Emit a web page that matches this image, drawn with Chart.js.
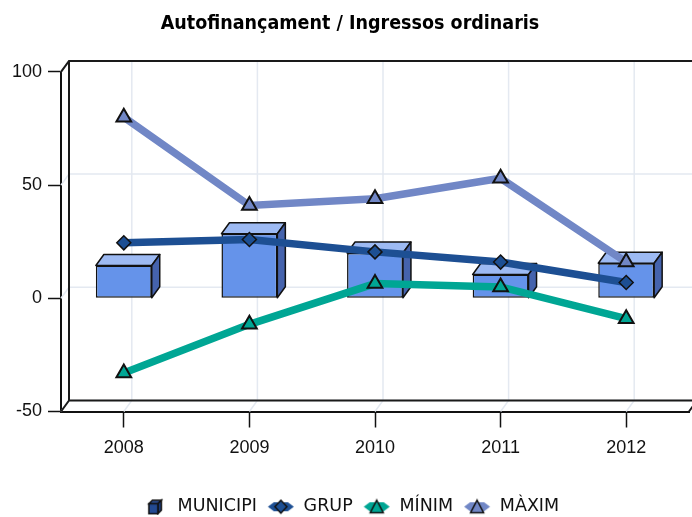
<!DOCTYPE html>
<html>
<head>
<meta charset="utf-8">
<script src="https://cdn.jsdelivr.net/npm/chart.js@4.4.1/dist/chart.umd.min.js"></script>
<style>
  body { margin: 0; background: #fff; }
</style>
</head>
<body>
<canvas id="grafic" width="692" height="517"></canvas>
<script>
const anys = ['2008', '2009', '2010', '2011', '2012'];
const municipi = [14.5, 28.5, 20, 10.5, 15.5];
const grup = [24.5, 26, 20.5, 16, 7];
const minim = [-33, -11.5, 6.5, 5, -9];
const maxim = [80, 41, 44, 53, 16];
const yTicks = [-50, 0, 50, 100];

const DX = 8, DY = -11; // fondaria 3D

const COL_BAR = '#6593ea', COL_BAR_TOP = '#9dbaf3', COL_BAR_SIDE = '#4563ad';
const COL_GRUP = '#1d4f93', COL_MIN = '#00a694', COL_MAX = '#7187c6';

// icones de la llegenda
let iconaBarra = () => {
  const c = document.createElement('canvas');
  c.width = 28; c.height = 17;
  const g = c.getContext('2d');
  g.lineWidth = 1.5; g.strokeStyle = '#111';
  g.fillStyle = '#2c4f96';
  g.beginPath(); g.moveTo(8, 5.5); g.lineTo(11.5, 2); g.lineTo(20.5, 2); g.lineTo(17, 5.5); g.closePath(); g.fill(); g.stroke();
  g.fillStyle = '#1b3a78';
  g.beginPath(); g.moveTo(17, 5.5); g.lineTo(20.5, 2); g.lineTo(20.5, 12); g.lineTo(17, 15.5); g.closePath(); g.fill(); g.stroke();
  g.fillStyle = '#234a92';
  g.fillRect(8, 5.5, 9, 10); g.strokeRect(8, 5.5, 9, 10);
  return c;
}

let iconaLinia = (color, marca) => {
  const c = document.createElement('canvas');
  c.width = 28; c.height = 17;
  const g = c.getContext('2d');
  g.fillStyle = color;
  g.beginPath();
  g.moveTo(1, 8.5); g.lineTo(7, 4); g.lineTo(21, 4); g.lineTo(27, 8.5); g.lineTo(21, 13); g.lineTo(7, 13);
  g.closePath(); g.fill();
  g.strokeStyle = '#111'; g.lineWidth = 1.5;
  g.beginPath();
  if (marca == 'diamant') {
    g.moveTo(14, 2); g.lineTo(20, 8.5); g.lineTo(14, 15); g.lineTo(8, 8.5);
  } else {
    g.moveTo(14, 2); g.lineTo(20.5, 14.5); g.lineTo(7.5, 14.5);
  }
  g.closePath(); g.fill(); g.stroke();
  return c;
}

const icones = [iconaBarra(), iconaLinia(COL_GRUP, 'diamant'), iconaLinia(COL_MIN, 'triangle'), iconaLinia(COL_MAX, 'triangle')];

// parets, graella i cares 3D de les barres
const marc3d = {
  id: 'marc3d',
  beforeDatasetsDraw(chart) {
    const {ctx, chartArea: a, scales: {x, y}} = chart;
    ctx.save();
    ctx.strokeStyle = '#e4e9f1';
    ctx.lineWidth = 1.5;
    yTicks.forEach(v => {
      const py = y.getPixelForValue(v);
      ctx.beginPath();
      ctx.moveTo(a.left, py);
      ctx.lineTo(a.left + DX, py + DY);
      ctx.lineTo(a.right + DX + 10, py + DY);
      ctx.stroke();
    });
    anys.forEach((_, i) => {
      const px = x.getPixelForValue(i);
      ctx.beginPath();
      ctx.moveTo(px, a.bottom);
      ctx.lineTo(px + DX, a.bottom + DY);
      ctx.lineTo(px + DX, a.top + DY);
      ctx.stroke();
    });
    ctx.strokeStyle = '#1a1a1a';
    ctx.lineWidth = 2;
    ctx.beginPath();
    ctx.moveTo(a.left, a.top); ctx.lineTo(a.left + DX, a.top + DY); ctx.lineTo(a.right + DX + 10, a.top + DY);
    ctx.moveTo(a.left + DX, a.top + DY); ctx.lineTo(a.left + DX, a.bottom + DY); ctx.lineTo(a.right + DX, a.bottom + DY);
    ctx.lineTo(a.right, a.bottom);
    ctx.moveTo(a.left, a.bottom); ctx.lineTo(a.left + DX, a.bottom + DY);
    ctx.stroke();
    ctx.restore();
  },
  afterDatasetDraw(chart, args) {
    const meta = args.meta;
    if (meta.type !== 'bar') return;
    const ctx = chart.ctx;
    ctx.save();
    ctx.strokeStyle = '#111';
    ctx.lineWidth = 1.5;
    ctx.lineJoin = 'round';
    meta.data.forEach(bar => {
      const {x, y, base, width} = bar.getProps(['x', 'y', 'base', 'width'], true);
      const l = x - width / 2, r = x + width / 2;
      const top = Math.min(y, base), bot = Math.max(y, base);
      ctx.fillStyle = COL_BAR_TOP;
      ctx.beginPath();
      ctx.moveTo(l, top); ctx.lineTo(l + DX, top + DY); ctx.lineTo(r + DX, top + DY); ctx.lineTo(r, top);
      ctx.closePath(); ctx.fill(); ctx.stroke();
      ctx.fillStyle = COL_BAR_SIDE;
      ctx.beginPath();
      ctx.moveTo(r, top); ctx.lineTo(r + DX, top + DY); ctx.lineTo(r + DX, bot + DY); ctx.lineTo(r, bot);
      ctx.closePath(); ctx.fill(); ctx.stroke();
    });
    ctx.restore();
  }
};

const fontEix = {family: "'Liberation Sans', Arial, sans-serif", size: 18};

const ctx = document.getElementById('grafic');
const dades = {
  labels: anys,
  datasets: [{
      type: 'bar',
      label: 'MUNICIPI',
      data: municipi,
      backgroundColor: COL_BAR,
      borderColor: '#111',
      borderWidth: 1.5,
      borderSkipped: false,
      barPercentage: 0.445,
      categoryPercentage: 1,
      order: 4
    }, {
      type: 'line',
      label: 'GRUP',
      data: grup,
      borderColor: COL_GRUP,
      backgroundColor: COL_GRUP,
      borderWidth: 7.5,
      pointStyle: 'rectRot',
      pointRadius: 7,
      pointBorderColor: '#111',
      pointBorderWidth: 1.5,
      tension: 0,
      order: 3
    }, {
      type: 'line',
      label: 'MÍNIM',
      data: minim,
      borderColor: COL_MIN,
      backgroundColor: COL_MIN,
      borderWidth: 7.5,
      pointStyle: 'triangle',
      pointRadius: 8.5,
      pointBorderColor: '#111',
      pointBorderWidth: 2,
      tension: 0,
      order: 2
    }, {
      type: 'line',
      label: 'MÀXIM',
      data: maxim,
      borderColor: COL_MAX,
      backgroundColor: COL_MAX,
      borderWidth: 7.5,
      pointStyle: 'triangle',
      pointRadius: 8.5,
      pointBorderColor: '#111',
      pointBorderWidth: 2,
      tension: 0,
      order: 1
  }]
};

const config = {
  data: dades,
  options: {
    responsive: false,
    animation: false,
    devicePixelRatio: 1,
    layout: {autoPadding: false, padding: {left: 11, right: 3, top: 0, bottom: -8.5}},
    scales: {
      x: {
        offset: true,
        grid: {drawOnChartArea: false, tickLength: 16, tickColor: '#111', tickWidth: 1.5, offset: false},
        border: {display: true, color: '#111', width: 2},
        ticks: {font: fontEix, color: '#111', padding: 10},
        afterFit: (scale) => { scale.height = 76.5; scale.paddingLeft = 0; scale.paddingRight = 0; }
      },
      y: {
        min: -50,
        max: 100,
        grid: {drawOnChartArea: false, tickLength: 13, tickColor: '#111', tickWidth: 1.5},
        border: {display: true, color: '#111', width: 2},
        ticks: {stepSize: 50, font: fontEix, color: '#111', padding: 6},
        afterFit: (scale) => { scale.width = 50; }
      }
    },
    plugins: {
      title: {
        display: true,
        text: 'Autofinançament / Ingressos ordinaris',
        color: '#000',
        font: {family: "'DejaVu Sans Condensed', 'DejaVu Sans', sans-serif", size: 19.5, weight: 'bold'},
        padding: {top: 12.5, bottom: 36}
      },
      legend: {
        position: 'bottom',
        labels: {
          usePointStyle: true,
          pointStyleWidth: 28,
          padding: 10,
          color: '#111',
          font: {family: "'DejaVu Sans', sans-serif", size: 17.5},
          generateLabels: (chart) => chart.data.datasets.map((ds, i) => ({
            text: ds.label,
            pointStyle: icones[i],
            fillStyle: 'rgba(0,0,0,0)',
            strokeStyle: 'rgba(0,0,0,0)',
            lineWidth: 0,
            hidden: false,
            datasetIndex: i,
            fontColor: '#111'
          }))
        }
      },
      tooltip: {enabled: false}
    }
  },
  plugins: [marc3d]
};
const chart = new Chart(ctx, config);
</script>
</body>
</html>
